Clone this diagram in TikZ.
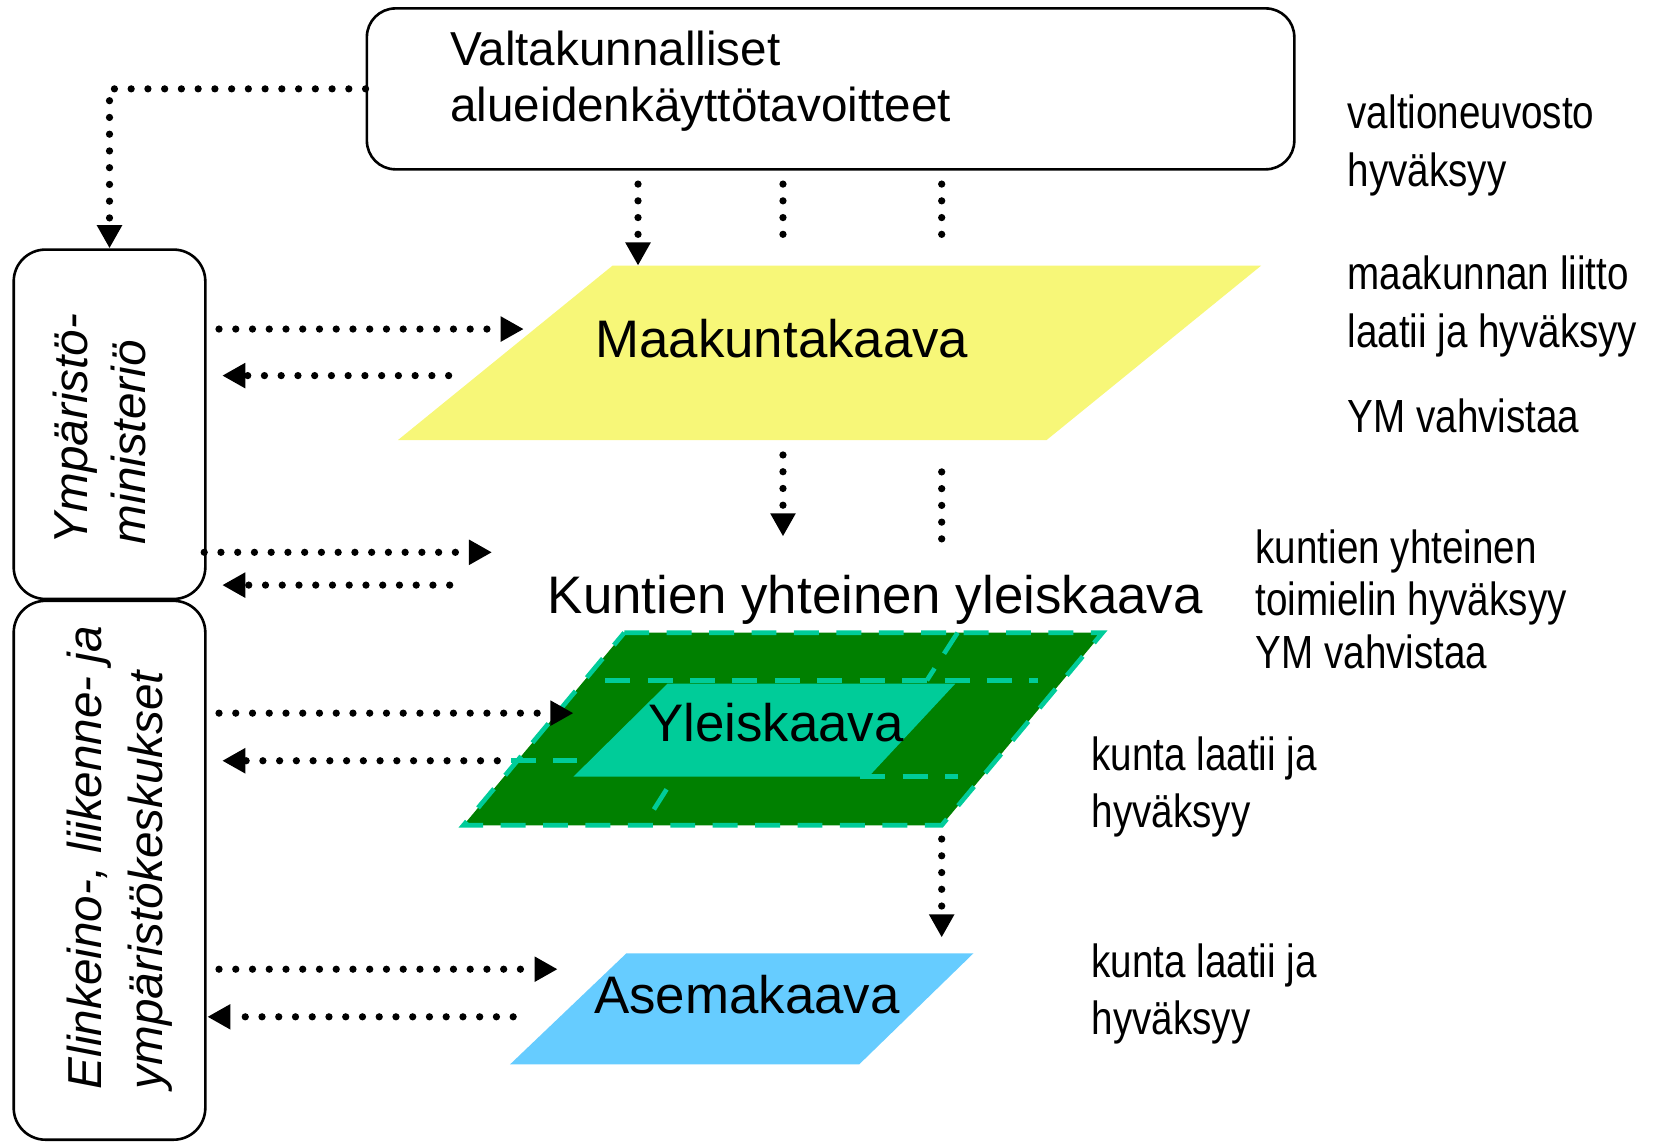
\documentclass[tikz,border=0pt]{standalone}
\usepackage{fontspec}
\setmainfont{Liberation Sans}
\newfontfamily\kapea[FakeStretch=0.83]{Liberation Sans}
\usetikzlibrary{arrows.meta}

\definecolor{keltainen}{RGB}{247,247,120}
\definecolor{tummanvihrea}{RGB}{0,128,0}
\definecolor{turkoosi}{RGB}{0,204,153}
\definecolor{vaaleansininen}{RGB}{102,204,255}

\begin{document}
\begin{tikzpicture}
        [
            x=0.01cm, y=-0.01cm,
            laatikko/.style={draw, rounded corners=0.27cm, line width=0.7pt, inner sep=0pt},
            piste/.style={line width=1.95pt, line cap=round, dash pattern=on 0pt off 4.5pt},
            nuoli/.style={-{Triangle[length=6.2pt,width=6.4pt]}},
            kaava/.style={font=\fontsize{14.2}{17}\selectfont, inner sep=0pt, anchor=base west},
            selite/.style={font=\kapea\fontsize{12.5}{15.4}\selectfont, align=left, inner sep=0pt, anchor=base west},
            virasto/.style={font=\fontsize{12.8}{15.4}\selectfont\itshape, align=left, inner sep=0pt, rotate=90, anchor=west},
            raja/.style={draw=turkoosi, line width=1.25pt, dash pattern=on 6.7pt off 4.7pt},
        ]
        \useasboundingbox (0,0) rectangle (1567,1079.5);

        %Laatikot
        \node[laatikko, minimum width=8.76cm, minimum height=1.52cm] (valtak) at (785,84) {};
        \node[font=\fontsize{12.8}{15.1}\selectfont, align=left, inner sep=0pt, anchor=base west] (valtaknimi) at (425,115) {Valtakunnalliset\\alueidenkäyttötavoitteet};
        \node[laatikko, rounded corners=0.3cm, minimum width=1.81cm, minimum height=3.3cm] (ymp) at (103.5,401) {};
        \node[laatikko, rounded corners=0.3cm, minimum width=1.81cm, minimum height=5.09cm] (ely) at (103.5,822.5) {};
        \node[virasto] (ympnimi) at (94,515) {Ympäristö-\\ministeriö};
        \node[virasto, font=\fontsize{12.8}{16.2}\selectfont\itshape] (elynimi) at (113,1030) {Elinkeino-, liikenne- ja\\ympäristökeskukset};

        %Kaavat
        \coordinate (mk1) at (579,251); \coordinate (mk2) at (1192,251);
        \coordinate (mk3) at (989,416); \coordinate (mk4) at (376,416);
        \fill[keltainen] (mk1) -- (mk2) -- (mk3) -- (mk4) -- cycle;

        \coordinate (yk1) at (590,598); \coordinate (yk2) at (1042,598);
        \coordinate (yk3) at (890,780); \coordinate (yk4) at (438,780);
        \fill[tummanvihrea] (yk1) -- (yk2) -- (yk3) -- (yk4) -- cycle;
        \fill[turkoosi] (631,646) -- (903,646) -- (821,734) -- (542,734) -- cycle;
        \draw[raja] (yk1) -- (yk2) -- (yk3) -- (yk4) -- cycle;
        \draw[raja] (572,643) -- (981,643);
        \draw[raja] (905,598) -- (876,643);
        \draw[raja] (483,719) -- (545,719);
        \draw[raja] (813,734) -- (905,734);
        \draw[raja] (630,746) -- (618,765);

        \coordinate (ak1) at (592,901); \coordinate (ak2) at (920,901);
        \coordinate (ak3) at (812,1006); \coordinate (ak4) at (482,1006);
        \fill[vaaleansininen] (ak1) -- (ak2) -- (ak3) -- (ak4) -- cycle;

        \node[kaava] (maakunta) at (562,338) {Maakuntakaava};
        \node[kaava] (kuntien) at (517,580) {Kuntien yhteinen yleiskaava};
        \node[kaava] (yleis) at (612,701) {Yleiskaava};
        \node[kaava] (asema) at (561,958) {Asemakaava};

        %Selitteet
        \node[selite] (vn) at (1273,176) {valtioneuvosto\\hyväksyy};
        \node[selite] (liitto) at (1273,328) {maakunnan liitto\\laatii ja hyväksyy};
        \node[selite] (ym1) at (1273,409) {YM vahvistaa};
        \node[selite, font=\kapea\fontsize{12.5}{14.2}\selectfont] (toimielin) at (1186,632) {kuntien yhteinen\\toimielin hyväksyy\\YM vahvistaa};
        \node[selite] (kunta1) at (1031,782) {kunta laatii ja\\hyväksyy};
        \node[selite] (kunta2) at (1031,978) {kunta laatii ja\\hyväksyy};

        %Viivat
        \coordinate (p1) at (603,174); \coordinate (p2) at (740,174); \coordinate (p3) at (890,174);
        \coordinate (p2b) at (740,223); \coordinate (p3b) at (890,223);
        \draw[piste,nuoli] (valtak.west) -| (ymp.north);
        \draw[piste,nuoli] (p1) -- (p1 |- mk1);
        \draw[piste] (p2) -- (p2b);
        \draw[piste] (p3) -- (p3b);

        \coordinate (p4) at (740,430); \coordinate (p4b) at (740,507);
        \coordinate (p5) at (890,446); \coordinate (p5b) at (890,511);
        \draw[piste,nuoli] (p4) -- (p4b);
        \draw[piste] (p5) -- (p5b);

        \coordinate (p6) at (890,793); \coordinate (p6b) at (890,886);
        \draw[piste,nuoli] (p6) -- (p6b);

        \coordinate (m1) at (207,311); \coordinate (m1b) at (495,311);
        \coordinate (m2) at (424,355); \coordinate (m2b) at (210,355);
        \draw[piste,nuoli] (m1) -- (m1b);
        \draw[piste,nuoli] (m2) -- (m2b);

        \coordinate (k1) at (193,522); \coordinate (k1b) at (465,522);
        \coordinate (k2) at (425,553); \coordinate (k2b) at (210,553);
        \draw[piste,nuoli] (k1) -- (k1b);
        \draw[piste,nuoli] (k2) -- (k2b);

        \coordinate (y1) at (207,674); \coordinate (y1b) at (542,674);
        \coordinate (y2) at (470,719); \coordinate (y2b) at (210,719);
        \draw[piste,nuoli] (y1) -- (y1b);
        \draw[piste,nuoli] (y2) -- (y2b);

        \coordinate (a1) at (207,916); \coordinate (a1b) at (527,916);
        \coordinate (a2) at (485,961); \coordinate (a2b) at (196,961);
        \draw[piste,nuoli] (a1) -- (a1b);
        \draw[piste,nuoli] (a2) -- (a2b);
    \end{tikzpicture}
\end{document}
